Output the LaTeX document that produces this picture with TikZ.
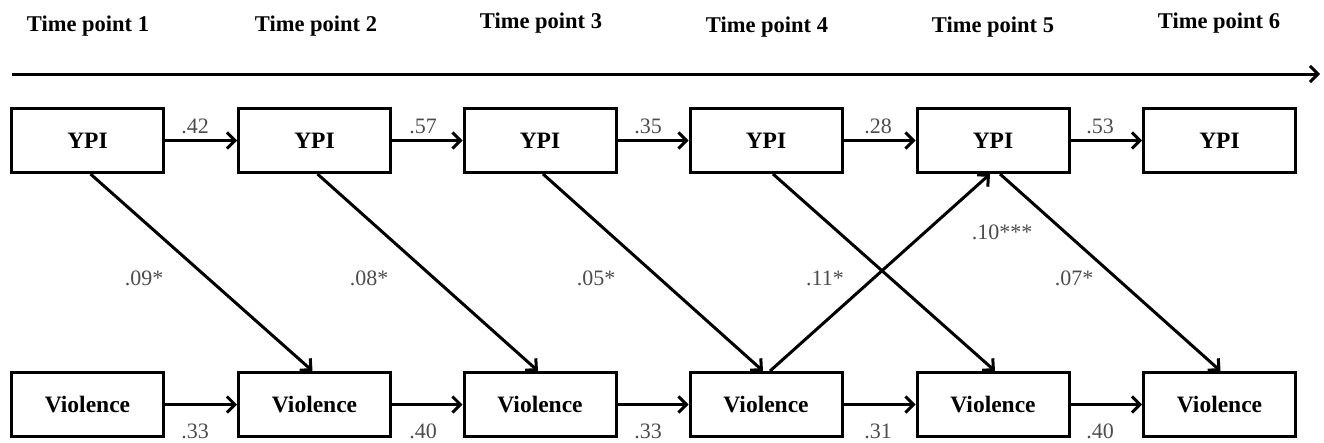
\documentclass[tikz,border=0pt]{standalone}
\usepackage{fontspec}
\setmainfont{Liberation Serif}
\usetikzlibrary{arrows.meta}
\begin{document}
\begin{tikzpicture}[x=1pt,y=-1pt,
  box/.style={draw, line width=3pt, minimum width=152pt, minimum height=64pt, inner sep=0pt,
    font=\bfseries\fontsize{23.5}{27}\selectfont},
  tp/.style={font=\bfseries\fontsize{22.5}{26}\selectfont, inner sep=0pt},
  coef/.style={font=\fontsize{22}{26}\selectfont, text=black!70, inner sep=0pt},
  arr/.style={line width=3pt, -{Straight Barb[length=8pt,width=16pt,line width=3pt]}}]
\useasboundingbox (0,0) rectangle (1324,442);
% time labels
\node[tp] (t1) at (88,26) {Time point 1};
\node[tp] (t2) at (316,26) {Time point 2};
\node[tp] (t3) at (541,23) {Time point 3};
\node[tp] (t4) at (767,27) {Time point 4};
\node[tp] (t5) at (993,27) {Time point 5};
\node[tp] (t6) at (1219,23) {Time point 6};
% time axis
\coordinate (axs) at (12,74);
\coordinate (axe) at (1320,74);
\draw[arr] (axs) -- (axe);
% boxes
\foreach \i/\x in {1/87.5,2/314.5,3/540,4/766,5/993,6/1219.5}{
  \node[box] (Y\i) at (\x,140.5) {YPI};
  \node[box] (V\i) at (\x,404.5) {Violence};
}
% horizontal arrows
\foreach \i/\j in {1/2,2/3,3/4,4/5,5/6}{
  \draw[arr] (Y\i.east) -- (Y\j.west);
  \draw[arr] (V\i.east) -- (V\j.west);
}
% diagonal arrows
\draw[arr] ([xshift=3pt]Y1.south) -- ([xshift=-2pt]V2.north);
\draw[arr] ([xshift=3pt]Y2.south) -- ([xshift=-2pt]V3.north);
\draw[arr] ([xshift=3pt]Y3.south) -- ([xshift=-3pt]V4.north);
\draw[arr] ([xshift=7pt]Y4.south) -- ([xshift=2pt]V5.north);
\draw[arr] ([xshift=7pt]Y5.south) -- ([xshift=1pt]V6.north);
\draw[arr] ([xshift=4pt]V4.north) -- ([xshift=-3pt]Y5.south);
% coefficients top
\node[coef] at (195,126) {.42};
\node[coef] at (423,126) {.57};
\node[coef] at (648,126) {.35};
\node[coef] at (878,126) {.28};
\node[coef] at (1100,126) {.53};
% coefficients bottom
\node[coef] at (195,431) {.33};
\node[coef] at (423,431) {.40};
\node[coef] at (648,431) {.33};
\node[coef] at (878,431) {.31};
\node[coef] at (1100,431) {.40};
% diagonal coefficients
\node[coef] at (144,278) {.09*};
\node[coef] at (369,278) {.08*};
\node[coef] at (596,278) {.05*};
\node[coef] at (825,278) {.11*};
\node[coef] at (1002,232) {.10***};
\node[coef] at (1074,278) {.07*};
\end{tikzpicture}
\end{document}
